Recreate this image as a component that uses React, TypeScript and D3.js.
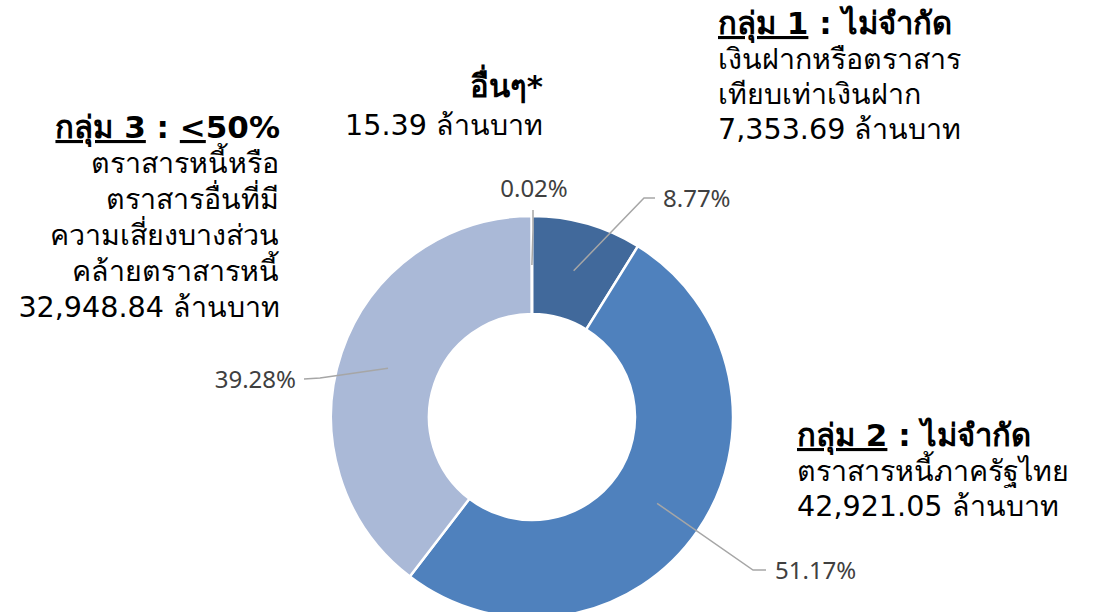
import React from "react";
import * as d3 from "d3";

const categories = ["กลุ่ม 1", "กลุ่ม 2", "กลุ่ม 3", "อื่นๆ"];
const amounts = [7353.69, 42921.05, 32948.84, 15.39];
const percentLabels = ["8.77%", "51.17%", "39.28%", "0.02%"];
const colors = ["#41699B", "#4F81BD", "#AAB9D7", "#7F9CC4"];

// layout (not data)
const W = 1101, H = 612;
const CX = 532, CY = 417, R_OUT = 201, R_IN = 103;
const pctLayout = [
  { elbow: [644, 198], end: [655, 198], tx: 663, ty: 199, anchor: "start" },
  { elbow: [753, 570], end: [766, 570], tx: 775, ty: 571, anchor: "start" },
  { elbow: [320, 378], end: [304, 379], tx: 296, ty: 380, anchor: "end" },
  { elbow: [533, 230], end: [533, 210], tx: 534, ty: 189, anchor: "middle" },
];

const THAI = "Tahoma, 'DejaVu Sans', sans-serif";
const PCT = "'Noto Sans', 'Open Sans', sans-serif";

export default function App() {
  const pie = d3.pie<number>().sort(null).value((d) => d);
  const arcs = pie(amounts);
  const arc = d3.arc<d3.PieArcDatum<number>>().innerRadius(R_IN).outerRadius(R_OUT);
  const fs = 28.6;
  const fb = 31;
  const ul = { textDecoration: "underline" } as React.CSSProperties;
  return (
    <svg width={W} height={H} style={{ position: "absolute", left: 0, top: 0, background: "#fff" }}>
      <g transform={`translate(${CX},${CY})`}>
        {arcs.map((a, i) => (
          <path key={categories[i]} d={arc(a) || ""} fill={colors[i]} stroke="#fff" strokeWidth={2.5} />
        ))}
      </g>
      {arcs.map((a, i) => {
        const c = arc.centroid(a);
        const L = pctLayout[i];
        const pts = [[CX + c[0], CY + c[1]], L.elbow, L.end];
        return (
          <g key={"lbl" + i}>
            <polyline points={pts.map((p) => p.join(",")).join(" ")} fill="none" stroke="#A6A6A6" strokeWidth={1.5} />
            <text x={L.tx} y={L.ty} dy="0.35em" textAnchor={L.anchor as any} fontFamily={PCT} fontSize={24} fill="#404040">
              {percentLabels[i]}
            </text>
          </g>
        );
      })}
      <g fontFamily={THAI} fontSize={fs} fill="#000">
        {/* group 3 */}
        <text x={280} y={138} textAnchor="end" fontWeight="bold" fontSize={fb}>
          <tspan style={ul}>กลุ่ม 3</tspan><tspan> : </tspan><tspan style={ul}>&lt;</tspan><tspan>50%</tspan>
        </text>
        <text x={279} y={173} textAnchor="end">ตราสารหนี้หรือ</text>
        <text x={279} y={209} textAnchor="end">ตราสารอื่นที่มี</text>
        <text x={279} y={245} textAnchor="end">ความเสี่ยงบางส่วน</text>
        <text x={279} y={281} textAnchor="end">คล้ายตราสารหนี้</text>
        <text x={280} y={317} textAnchor="end">32,948.84 ล้านบาท</text>
        {/* others */}
        <text x={543} y={97} textAnchor="end" fontWeight="bold" fontSize={fb}>อื่นๆ*</text>
        <text x={543} y={135} textAnchor="end">15.39 ล้านบาท</text>
        {/* group 1 */}
        <text x={718} y={34} fontWeight="bold" fontSize={fb}>
          <tspan style={ul}>กลุ่ม 1</tspan><tspan> : ไม่จำกัด</tspan>
        </text>
        <text x={718} y={69}>เงินฝากหรือตราสาร</text>
        <text x={718} y={104}>เทียบเท่าเงินฝาก</text>
        <text x={718} y={139}>7,353.69 ล้านบาท</text>
        {/* group 2 */}
        <text x={797} y={446} fontWeight="bold" fontSize={fb}>
          <tspan style={ul}>กลุ่ม 2</tspan><tspan> : ไม่จำกัด</tspan>
        </text>
        <text x={797} y={481}>ตราสารหนี้ภาครัฐไทย</text>
        <text x={797} y={516}>42,921.05 ล้านบาท</text>
      </g>
    </svg>
  );
}
